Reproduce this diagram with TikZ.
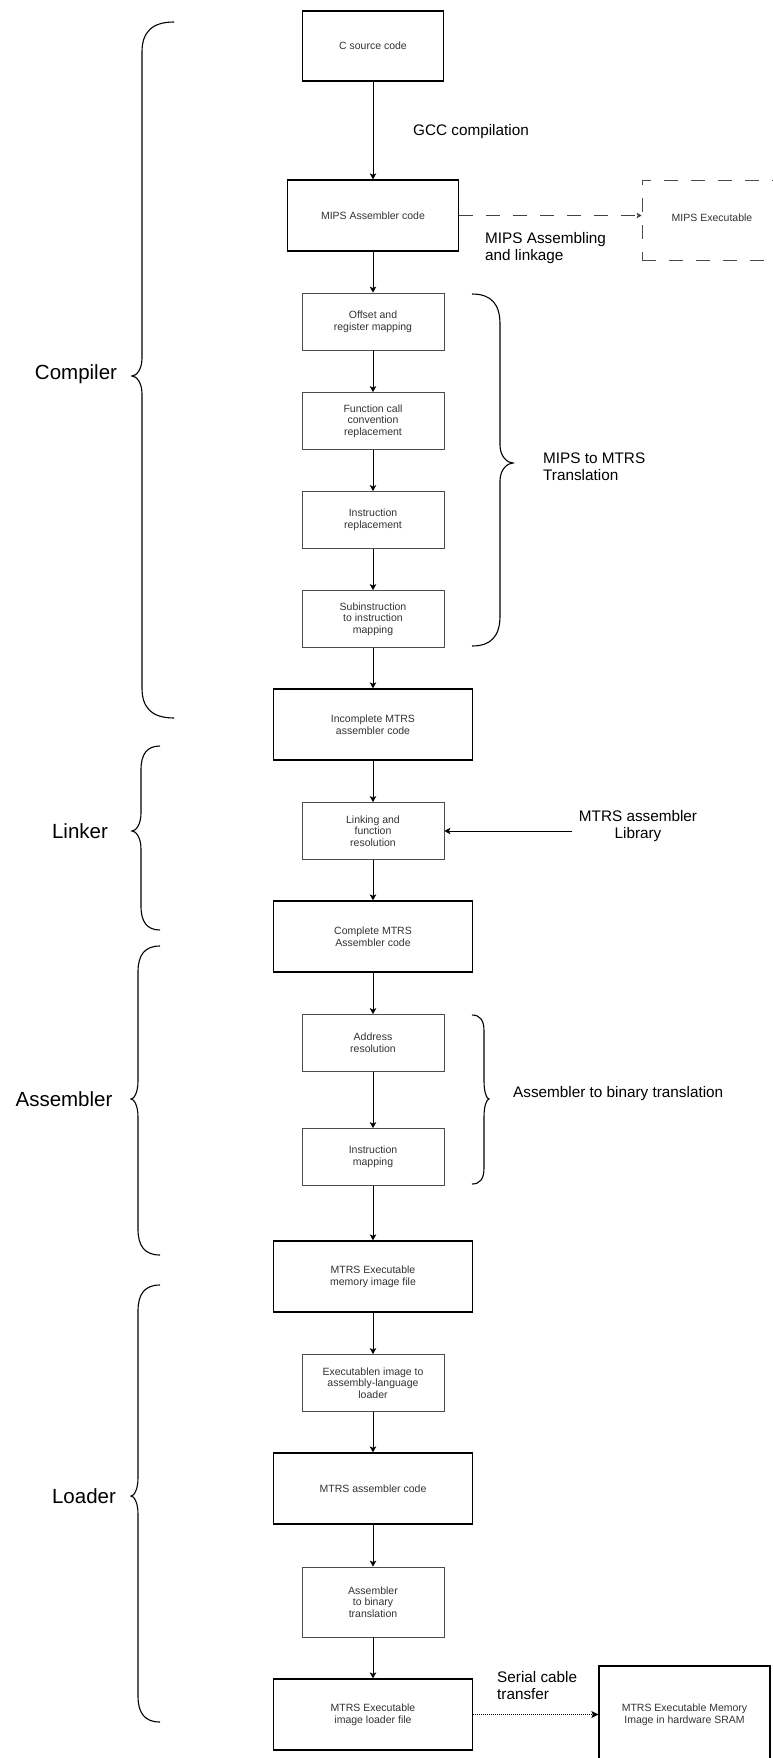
\documentclass[tikz,border=0pt]{standalone}
\usepackage{fontspec}
\setmainfont{Liberation Sans}
\usetikzlibrary{arrows.meta}

% font sizes used in the flow chart
\newcommand\bxfont{\fontsize{10.5}{11.6}\selectfont}
\newcommand\midfont{\fontsize{15.3}{17}\selectfont}
\newcommand\bigfont{\fontsize{20.5}{23}\selectfont}

% curly brace: end x, straight-part x, tip x, top y, tip y, bottom y, end radius
\newcommand\curly[7]{%
  \draw[bracestyle] (#1,#4)
    .. controls ({#2+0.3*(#1-#2)},#4) and (#2,{#4+0.35*#7}) .. (#2,{#4+#7})
    -- (#2,{#5-18})
    .. controls (#2,{#5-6}) and ({#3+0.4*(#2-#3)},#5) .. (#3,#5)
    .. controls ({#3+0.4*(#2-#3)},#5) and (#2,{#5+6}) .. (#2,{#5+18})
    -- (#2,{#6-#7})
    .. controls (#2,{#6-0.35*#7}) and ({#2+0.3*(#1-#2)},#6) .. (#1,#6);}

\tikzset{
  bigbox/.style={draw=black, line width=1.3pt, minimum width=199pt,
    minimum height=71pt, inner sep=0pt, align=center, font=\bxfont, text=black!80},
  stepbox/.style={draw=black!70, line width=0.8pt, minimum width=142pt,
    minimum height=57pt, inner sep=0pt, align=center, font=\bxfont, text=black!80},
  dashbox/.style={draw=black!70, line width=0.8pt, dash pattern=on 14pt off 13pt,
    minimum width=140pt, minimum height=80pt, inner sep=0pt, align=center,
    font=\bxfont, text=black!80},
  midlabel/.style={inner sep=0pt, font=\midfont, text=black},
  biglabel/.style={inner sep=0pt, font=\bigfont, text=black},
  flow/.style={draw=black, line width=0.8pt,
    -{Stealth[length=6pt,width=6.5pt,inset=1.5pt]}},
  bracestyle/.style={draw=black, line width=1.1pt},
}

\begin{document}
\begin{tikzpicture}[x=1pt,y=-1pt]
\useasboundingbox[fill=white] (0,0) rectangle (773,1758);

% main flow
\node[bigbox, minimum width=141pt, minimum height=70pt] (src) at (373,46) {C source code};
\node[bigbox, minimum width=171pt] (mips) at (373,215.5) {MIPS Assembler code};
\node[dashbox] (mexe) at (712,220) {\raisebox{4pt}{MIPS Executable}};
\node[stepbox] (off) at (373,321.5) {Offset and\\register mapping};
\node[stepbox] (func) at (373,421) {Function call\\convention\\replacement};
\node[stepbox] (instr) at (373,520) {Instruction\\replacement};
\node[stepbox] (sub) at (373,619) {Subinstruction\\to instruction\\mapping};
\node[bigbox] (inc) at (373,724.5) {Incomplete MTRS\\assembler code};
\node[stepbox] (link) at (373,831) {Linking and\\function\\resolution};
\node[bigbox] (comp) at (373,936.5) {Complete MTRS\\Assembler code};
\node[stepbox] (addr) at (373,1043) {Address\\resolution};
\node[stepbox] (imap) at (373,1157) {Instruction\\mapping};
\node[bigbox] (mexef) at (373,1276.5) {MTRS Executable\\memory image file};
\node[stepbox] (ldr) at (373,1383) {Executablen image to\\assembly-language\\loader};
\node[bigbox] (masm) at (373,1488.5) {MTRS assembler code};
\node[stepbox, minimum height=70pt] (a2b) at (373,1602) {Assembler\\to binary\\translation};
\node[bigbox] (ldrf) at (373,1714.5) {MTRS Executable\\image loader file};
\node[bigbox, minimum width=171pt, minimum height=98pt] (sram) at (684.5,1715)
  {MTRS Executable Memory\\Image in hardware SRAM};

% side labels
\node[midlabel, anchor=west] (gcc) at (413,132) {GCC compilation};
\node[midlabel, anchor=west, align=left] (mal) at (485,248.5) {MIPS Assembling\\and linkage};
\node[midlabel, anchor=west, align=left] (m2m) at (543,467) {MIPS to MTRS\\Translation};
\node[midlabel, align=center] (lib) at (638,826.5) {MTRS assembler\\Library};
\node[midlabel, anchor=west] (a2bl) at (513,1094) {Assembler to binary translation};
\node[midlabel, anchor=west, align=left] (ser) at (497,1685.5) {Serial cable\\transfer};
\coordinate (libin) at (572,831);

\node[biglabel] (compiler) at (76,374) {Compiler};
\node[biglabel] (linker) at (80,831) {Linker};
\node[biglabel] (assembler) at (64,1099) {Assembler};
\node[biglabel] (loader) at (84,1496) {Loader};

% connectors
\draw[flow] (src) -- (mips);
\draw[flow] (mips) -- (off);
\draw[flow] (off) -- (func);
\draw[flow] (func) -- (instr);
\draw[flow] (instr) -- (sub);
\draw[flow] (sub) -- (inc);
\draw[flow] (inc) -- (link);
\draw[flow] (link) -- (comp);
\draw[flow] (comp) -- (addr);
\draw[flow] (addr) -- (imap);
\draw[flow] (imap) -- (mexef);
\draw[flow] (mexef) -- (ldr);
\draw[flow] (ldr) -- (masm);
\draw[flow] (masm) -- (a2b);
\draw[flow] (a2b) -- (ldrf);
\draw[flow] (libin) -- (libin -| link.east);
\draw[flow, draw=black!75, dash pattern=on 14pt off 13pt,
  -{Stealth[length=5pt,width=5.5pt,inset=1.2pt]}] (mips.east) -- (mips.east -| mexe.west);
\draw[flow, dash pattern=on 1pt off 1pt,
  -{Stealth[length=7pt,width=7pt,inset=1.5pt]}] (ldrf.east) -- (ldrf.east -| sram.west);

% braces
\curly{174}{142}{132}{22}{376}{718}{30}
\curly{160}{141}{132}{746}{831}{930}{24}
\curly{160}{138}{131}{946}{1099}{1255}{26}
\curly{160}{138}{131}{1285}{1496}{1722}{26}
\curly{472}{500}{513}{294}{463}{646}{30}
\curly{472}{484}{489}{1015}{1099}{1184}{16}
\end{tikzpicture}
\end{document}
